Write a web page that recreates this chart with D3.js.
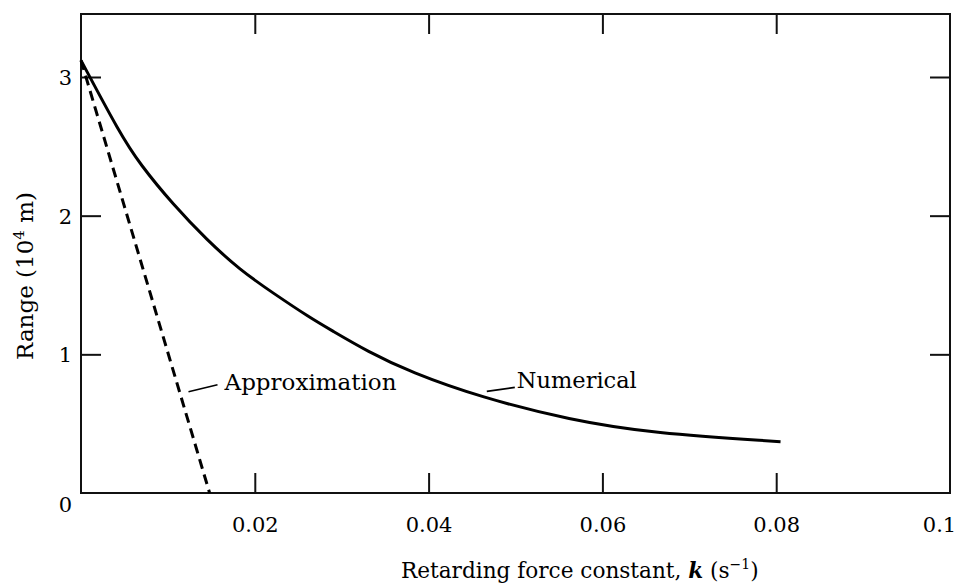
<!DOCTYPE html>
<html>
<head>
<meta charset="utf-8">
<script src="https://cdn.jsdelivr.net/npm/d3@7"></script>
<style>
  html, body { margin: 0; padding: 0; background: #fff; }
  svg { display: block; }
  text { font-family: "DejaVu Serif", serif; fill: #000; }
</style>
</head>
<body>
<svg id="chart" width="956" height="586"></svg>
<script>
// ---- data ----
const kNumerical = [0, 0.0045, 0.0068, 0.0106, 0.0145, 0.0183, 0.0221, 0.0264, 0.0287, 0.0330, 0.0379, 0.046, 0.0563, 0.0658, 0.0805];
const rangeNumerical = [3.12, 2.59, 2.37, 2.08, 1.824, 1.608, 1.442, 1.262, 1.178, 1.02, 0.872, 0.69, 0.526, 0.43, 0.37];
const kApprox = [0, 0.0148];
const rangeApprox = [3.12, 0];
const xTicks = [0.02, 0.04, 0.06, 0.08, 0.1];
const xTickLabels = ["0.02", "0.04", "0.06", "0.08", "0.1"];
const yTicks = [0, 1, 2, 3];
const yTickLabels = ["0", "1", "2", "3"];
const labelApprox = "Approximation";
const labelNumerical = "Numerical";

// ---- layout ----
const svg = d3.select("#chart");
const mLeft = 81, mRight = 950, mTop = 14, mBottom = 493;
const x = d3.scaleLinear().domain([0, 0.1]).range([mLeft, mRight]);
const y = d3.scaleLinear().domain([0, 3]).range([mBottom, 77]);
const tickLen = 20;

// frame
svg.append("rect")
  .attr("x", mLeft).attr("y", mTop)
  .attr("width", mRight - mLeft).attr("height", mBottom - mTop)
  .attr("fill", "none").attr("stroke", "#111").attr("stroke-width", 2);

const innerX = xTicks.filter(d => d < 0.1);
const innerY = yTicks.filter(d => d > 0);

// bottom axis (inward ticks)
const gB = svg.append("g").attr("transform", `translate(0,${mBottom})`)
  .call(d3.axisBottom(x).tickValues(xTicks)
    .tickFormat((d, i) => xTickLabels[i]).tickSize(-tickLen).tickPadding(24));
gB.select(".domain").remove();
gB.selectAll(".tick line").attr("stroke", "#111").attr("stroke-width", 2)
  .filter(d => d >= 0.1).remove();
gB.selectAll(".tick text").attr("font-size", 21).attr("font-family", "DejaVu Serif").attr("fill", "#000")
  .attr("dy", null).attr("y", 39)
  .attr("dx", d => d >= 0.1 ? -11 : 0);

// top ticks
const gT = svg.append("g").attr("transform", `translate(0,${mTop})`)
  .call(d3.axisTop(x).tickValues(innerX).tickSize(-tickLen).tickFormat(""));
gT.select(".domain").remove();
gT.selectAll(".tick line").attr("stroke", "#111").attr("stroke-width", 2);

// left axis
const gL = svg.append("g").attr("transform", `translate(${mLeft},0)`)
  .call(d3.axisLeft(y).tickValues(yTicks)
    .tickFormat((d, i) => yTickLabels[i]).tickSize(-tickLen).tickPadding(9));
gL.select(".domain").remove();
gL.selectAll(".tick line").attr("stroke", "#111").attr("stroke-width", 2)
  .filter(d => d === 0).remove();
gL.selectAll(".tick text").attr("font-size", 21).attr("font-family", "DejaVu Serif").attr("fill", "#000")
  .attr("dy", d => d === 0 ? "0.9em" : "0.35em");

// right ticks
const gR = svg.append("g").attr("transform", `translate(${mRight},0)`)
  .call(d3.axisRight(y).tickValues(innerY).tickSize(-tickLen).tickFormat(""));
gR.select(".domain").remove();
gR.selectAll(".tick line").attr("stroke", "#111").attr("stroke-width", 2);

// numerical curve
const numData = kNumerical.map((k, i) => [k, rangeNumerical[i]]);
const line = d3.line().x(d => x(d[0])).y(d => y(d[1])).curve(d3.curveBasis);
svg.append("path").datum(numData).attr("d", line)
  .attr("fill", "none").attr("stroke", "#000").attr("stroke-width", 3);

// approximation dashed
const apData = kApprox.map((k, i) => [k, rangeApprox[i]]);
svg.append("path").datum(apData).attr("d", d3.line().x(d => x(d[0])).y(d => y(d[1])))
  .attr("fill", "none").attr("stroke", "#000").attr("stroke-width", 3)
  .attr("stroke-dasharray", "10,6");

// Approximation label with leader
const apR = 0.73, apK = kApprox[1] * (1 - apR / rangeApprox[0]);
svg.append("line")
  .attr("x1", x(apK) + 9).attr("y1", y(apR))
  .attr("x2", x(apK) + 38).attr("y2", y(apR) - 7)
  .attr("stroke", "#000").attr("stroke-width", 1.6);
svg.append("text").attr("x", x(apK) + 45).attr("y", y(apR) - 2)
  .attr("font-size", 23).text(labelApprox);

// Numerical label with leader
const nuK = 0.0467, nuR = 0.675;
svg.append("line")
  .attr("x1", x(nuK)).attr("y1", y(nuR) - 8)
  .attr("x2", x(nuK) + 28).attr("y2", y(nuR) - 12)
  .attr("stroke", "#000").attr("stroke-width", 1.6);
svg.append("text").attr("x", x(nuK) + 30).attr("y", y(nuR) - 11)
  .attr("font-size", 22.5).text(labelNumerical);

// x axis title
const xt = svg.append("text").attr("x", 401).attr("y", 578).attr("font-size", 21.6);
xt.append("tspan").text("Retarding force constant, ");
xt.append("tspan").attr("font-style", "italic").attr("font-weight", "bold").text("k");
xt.append("tspan").text(" (s");
xt.append("tspan").attr("font-size", 14).attr("dy", -9).text("\u22121");
xt.append("tspan").attr("dy", 9).text(")");

// y axis title
const yt = svg.append("text")
  .attr("transform", "translate(33,276) rotate(-90)")
  .attr("text-anchor", "middle").attr("font-size", 23);
yt.append("tspan").text("Range (10");
yt.append("tspan").attr("font-size", 15).attr("dy", -9).text("4");
yt.append("tspan").attr("dy", 9).text(" m)");
</script>
</body>
</html>
